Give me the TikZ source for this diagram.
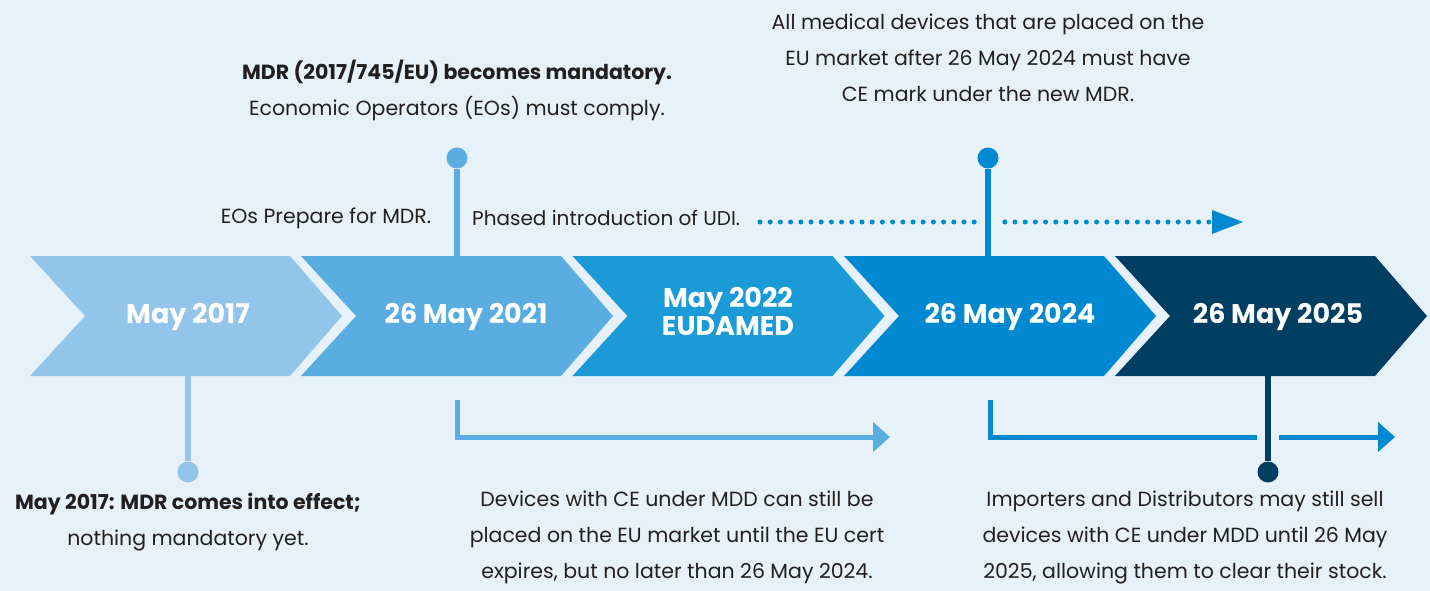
\documentclass[tikz,border=0pt]{standalone}
\usepackage{fontspec}
\setmainfont{Poppins}
\usetikzlibrary{arrows.meta}

\definecolor{bg}{HTML}{E6F1FA}
\definecolor{txt}{HTML}{231F20}
\definecolor{cA}{HTML}{93C4E9}
\definecolor{cB}{HTML}{5AADE1}
\definecolor{cC}{HTML}{1A9AD6}
\definecolor{cD}{HTML}{0089D0}
\definecolor{cE}{HTML}{003F62}

\tikzset{
  chev/.style={fill=#1, draw=none},
  chevlabel/.style={text=white, font=\fontsize{27}{31}\selectfont\bfseries, align=center, inner sep=0pt},
  note/.style={text=txt, font=\fontsize{20.5}{36}\selectfont, align=center, inner sep=0pt},
  stem/.style={draw=#1, line width=5.5pt},
  halo/.style={draw=bg, line width=22pt},
  dotpin/.style={circle, fill=#1, minimum size=21pt, inner sep=0pt},
  bracket/.style={draw=#1, line width=5pt, -{Triangle[length=17pt,width=29pt]}},
  dotted line/.style={draw=cD, line width=5pt, line cap=round, dash pattern=on 0pt off 10.2pt},
}

% one chevron with its left corner at x = #1
\newcommand{\chevronshape}[2]{%
  \fill[chev=#2] (#1,256) -- ++(260,0) -- ++(52,60) -- ++(-52,60) -- ++(-260,0) -- ++(55,-60) -- cycle;}

\begin{document}
\begin{tikzpicture}[x=1pt, y=-1pt]
  \useasboundingbox (0,0) rectangle (1430,591);
  \fill[bg] (0,0) rectangle (1430,591);

  % chevrons
  \chevronshape{30}{cA}
  \chevronshape{301}{cB}
  \chevronshape{572.5}{cC}
  \chevronshape{844}{cD}
  \chevronshape{1115}{cE}

  \node[chevlabel] (c1) at (188,317) {May 2017};
  \node[chevlabel] (c2) at (466,317) {26 May 2021};
  \node[chevlabel] (c3) at (728,312) {May 2022\\[-3pt]EUDAMED};
  \node[chevlabel] (c4) at (1010,317) {26 May 2024};
  \node[chevlabel] (c5) at (1278,317) {26 May 2025};

  % anchor points on chevron edges
  \coordinate (s1) at (188,376);
  \coordinate (s2) at (457,256);
  \coordinate (s4) at (988,256);
  \coordinate (s5) at (1268,376);

  % pins
  \node[dotpin=cA] (p1) at (188,472) {};
  \node[dotpin=cB] (p2) at (457,158) {};
  \node[dotpin=cD] (p4) at (988,158) {};
  \node[dotpin=cE] (p5) at (1268,472) {};

  % dotted UDI arrow
  \coordinate (u0) at (760,222);
  \coordinate (u1) at (1243,222);
  \draw[dotted line] (u0) -- (1212,222);
  \fill[cD] (1212,210) -- (u1) -- (1212,234) -- cycle;

  % transition-period brackets
  \coordinate (b1) at (457,400);
  \coordinate (b1e) at (890,437);
  \draw[bracket=cB] (b1) |- (b1e);
  \coordinate (b2) at (990.5,400);
  \coordinate (b2e) at (1395,437);
  \draw[bracket=cD] (b2) |- (b2e);

  % stems (with a clearing halo where they cross other lines)
  \draw[stem=cA] (s1) -- (p1);
  \draw[stem=cB] (s2) -- (p2);
  \draw[halo] (988,200) -- (988,244);
  \draw[stem=cD] (s4) -- (p4);
  \draw[halo] (1268,420) -- (1268,454);
  \draw[stem=cE] (s5) -- (p5);

  % notes
  \node[note] (t1) at (188,522) {\textbf{May 2017: MDR comes into effect;}\\nothing mandatory yet.};
  \node[note] (t2) at (457,90) {\textbf{MDR (2017/745/EU) becomes mandatory.}\\Economic Operators (EOs) must comply.};
  \node[note] (t3) at (988,58) {All medical devices that are placed on the\\EU market after 26 May 2024 must have\\CE mark under the new MDR.};
  \node[note] (t4) at (326,218) {EOs Prepare for MDR.};
  \node[note, font=\fontsize{20}{36}\selectfont, anchor=west] (t5) at (472,218) {Phased introduction of UDI.};
  \node[note] (t6) at (677,537) {Devices with CE under MDD can still be\\placed on the EU market until the EU cert\\expires, but no later than 26 May 2024.};
  \node[note] (t7) at (1185,537) {Importers and Distributors may still sell\\devices with CE under MDD until 26 May\\2025, allowing them to clear their stock.};
\end{tikzpicture}
\end{document}
